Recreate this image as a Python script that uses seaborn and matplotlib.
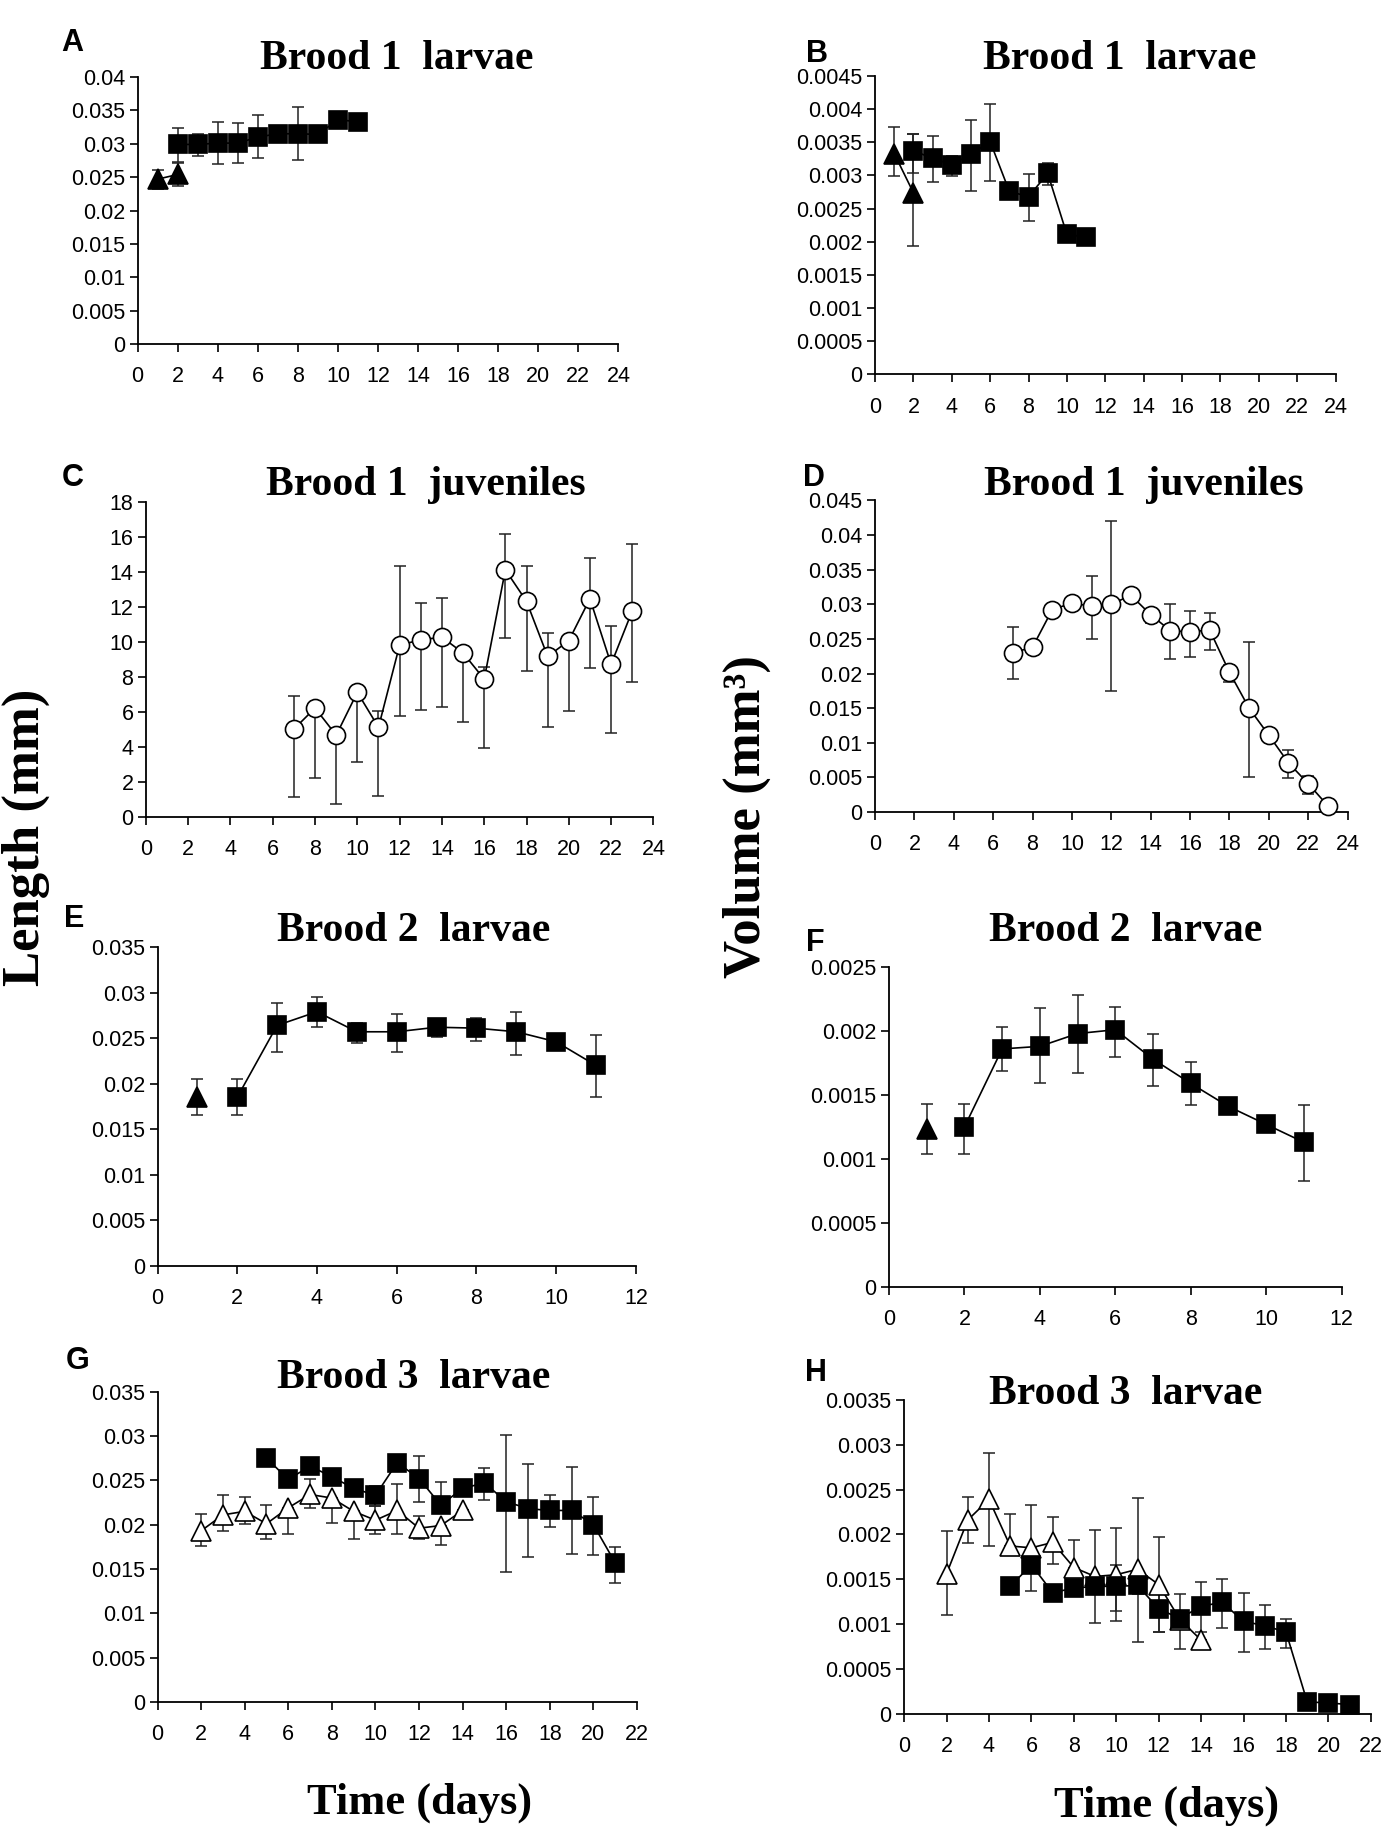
import numpy as np
import pandas as pd
import matplotlib.pyplot as plt
import seaborn as sns

nan = np.nan

# ── A: brood 1 larvae, length ─────────────────────────────────
a_tri_day = [1, 2]
a_tri_val = [0.0247, 0.0254]
a_tri_hi = [0.0261, 0.0271]
a_tri_lo = [0.0233, 0.0237]
a_sq_day = [2, 3, 4, 5, 6, 7, 8, 9, 10, 11]
a_sq_val = [0.0299, 0.0299, 0.0301, 0.0301, 0.0310, 0.0315, 0.0315, 0.0314, 0.0336, 0.0333]
a_sq_hi = [0.0323, 0.0315, 0.0332, 0.0331, 0.0343, nan, 0.0355, nan, nan, nan]
a_sq_lo = [0.0273, 0.0281, 0.0270, 0.0271, 0.0278, nan, 0.0275, nan, nan, nan]

# ── B: brood 1 larvae, volume ─────────────────────────────────
b_tri_day = [1, 2]
b_tri_val = [0.00333, 0.00274]
b_tri_hi = [0.00373, 0.00363]
b_tri_lo = [0.00299, 0.00193]
b_sq_day = [2, 3, 4, 5, 6, 7, 8, 9, 10, 11]
b_sq_val = [0.00337, 0.00326, 0.00316, 0.00332, 0.00351, 0.00276, 0.00268, 0.00303, 0.00211, 0.00207]
b_sq_hi = [0.00362, 0.00360, 0.00330, 0.00383, 0.00408, 0.00280, 0.00302, 0.00319, nan, nan]
b_sq_lo = [0.00304, 0.00290, 0.00299, 0.00277, 0.00292, 0.00272, 0.00232, 0.00285, nan, nan]

# ── C: brood 1 juveniles, length ──────────────────────────────
c_day = [7, 8, 9, 10, 11, 12, 13, 14, 15, 16, 17, 18, 19, 20, 21, 22, 23]
c_val = [5.0, 6.2, 4.65, 7.1, 5.1, 9.8, 10.1, 10.25, 9.35, 7.85, 14.1, 12.3, 9.15, 10.05, 12.45, 8.7, 11.75]
c_hi = [6.9, nan, nan, nan, 6.05, 14.3, 12.2, 12.5, nan, 8.55, 16.15, 14.3, 10.5, nan, 14.8, 10.9, 15.55]
c_lo = [1.1, 2.2, 0.7, 3.1, 1.2, 5.75, 6.1, 6.25, 5.4, 3.9, 10.2, 8.3, 5.1, 6.05, 8.5, 4.75, 7.7]

# ── D: brood 1 juveniles, volume ──────────────────────────────
d_day = [7, 8, 9, 10, 11, 12, 13, 14, 15, 16, 17, 18, 19, 20, 21, 22, 23]
d_val = [0.0230, 0.0238, 0.0292, 0.0302, 0.0297, 0.0300, 0.0313, 0.0285, 0.0262, 0.0260,
         0.0263, 0.0202, 0.0150, 0.0111, 0.0071, 0.0041, 0.0009]
d_hi = [0.0267, nan, nan, nan, 0.0341, 0.0420, nan, nan, 0.0300, 0.0290,
        0.0287, 0.0213, 0.0246, nan, 0.0090, 0.0052, nan]
d_lo = [0.0192, nan, nan, nan, 0.0250, 0.0175, nan, 0.0273, 0.0221, 0.0224,
        0.0234, 0.0188, 0.0050, nan, 0.0049, 0.0026, nan]

# ── E: brood 2 larvae, length ─────────────────────────────────
e_tri_day = [1]
e_tri_val = [0.0185]
e_tri_hi = [0.0205]
e_tri_lo = [0.0165]
e_sq_day = [2, 3, 4, 5, 6, 7, 8, 9, 10, 11]
e_sq_val = [0.0185, 0.0264, 0.0279, 0.0257, 0.0257, 0.0262, 0.0261, 0.0257, 0.0246, 0.0220]
e_sq_hi = [0.0205, 0.0289, 0.0295, 0.0267, 0.0277, 0.0265, 0.0272, 0.0279, nan, 0.0253]
e_sq_lo = [0.0165, 0.0235, 0.0262, 0.0245, 0.0235, 0.0251, 0.0247, 0.0232, nan, 0.0185]

# ── F: brood 2 larvae, volume ─────────────────────────────────
f_tri_day = [1]
f_tri_val = [0.00123]
f_tri_hi = [0.00143]
f_tri_lo = [0.00104]
f_sq_day = [2, 3, 4, 5, 6, 7, 8, 9, 10, 11]
f_sq_val = [0.00125, 0.00186, 0.00188, 0.00198, 0.00201, 0.00178, 0.00159, 0.00141, 0.00127, 0.00113]
f_sq_hi = [0.00143, 0.00203, 0.00218, 0.00228, 0.00219, 0.00198, 0.00176, 0.00144, nan, 0.00142]
f_sq_lo = [0.00104, 0.00169, 0.00159, 0.00167, 0.00180, 0.00157, 0.00142, 0.00137, nan, 0.00083]

# ── G: brood 3 larvae, length ─────────────────────────────────
g_tri_day = [2, 3, 4, 5, 6, 7, 8, 9, 10, 11, 12, 13, 14]
g_tri_val = [0.0193, 0.0211, 0.0215, 0.0201, 0.0219, 0.0234, 0.0230, 0.0215, 0.0205, 0.0216, 0.0196, 0.0199, 0.0216]
g_tri_hi = [0.0212, 0.0233, 0.0231, 0.0222, nan, 0.0251, nan, nan, 0.0221, 0.0246, 0.0210, nan, nan]
g_tri_lo = [0.0176, 0.0193, 0.0201, 0.0184, 0.0190, 0.0219, 0.0202, 0.0184, 0.0190, 0.0189, 0.0184, 0.0177, nan]
g_sq_day = [5, 6, 7, 8, 9, 10, 11, 12, 13, 14, 15, 16, 17, 18, 19, 20, 21]
g_sq_val = [0.0275, 0.0251, 0.0266, 0.0254, 0.0241, 0.0233, 0.0270, 0.0252, 0.0222, 0.0241,
            0.0247, 0.0226, 0.0218, 0.0216, 0.0216, 0.0200, 0.0157]
g_sq_hi = [nan, nan, nan, nan, nan, 0.0244, nan, 0.0277, 0.0248, nan,
           0.0264, 0.0301, 0.0268, 0.0233, 0.0265, 0.0231, 0.0175]
g_sq_lo = [nan, nan, nan, nan, nan, 0.0221, nan, 0.0225, nan, nan,
           0.0228, 0.0147, 0.0164, 0.0197, 0.0167, 0.0166, 0.0134]

# ── H: brood 3 larvae, volume ─────────────────────────────────
h_tri_day = [2, 3, 4, 5, 6, 7, 8, 9, 10, 11, 12, 13, 14]
h_tri_val = [0.00156, 0.00216, 0.00239, 0.00187, 0.00185, 0.00191, 0.00163, 0.00153, 0.00155,
             0.00161, 0.00144, 0.00105, 0.00082]
h_tri_hi = [0.00204, 0.00242, 0.00291, 0.00223, 0.00233, 0.00219, 0.00194, 0.00205, 0.00207,
            0.00241, 0.00197, nan, nan]
h_tri_lo = [0.00110, 0.00190, 0.00187, nan, nan, 0.00167, nan, nan, 0.00103,
            0.00080, 0.00091, nan, nan]
h_sq_day = [5, 6, 7, 8, 9, 10, 11, 12, 13, 14, 15, 16, 17, 18, 19, 20, 21]
h_sq_val = [0.00142, 0.00166, 0.00135, 0.00140, 0.00142, 0.00142, 0.00143, 0.00117, 0.00106,
            0.00120, 0.00124, 0.00103, 0.00098, 0.00091, 0.00013, 0.00012, 0.00010]
h_sq_hi = [nan, nan, nan, 0.00143, nan, 0.00166, nan, 0.00133, 0.00134,
           0.00147, 0.00150, 0.00135, 0.00121, 0.00106, nan, nan, nan]
h_sq_lo = [nan, 0.00137, nan, 0.00131, 0.00101, 0.00114, 0.00133, 0.00091, 0.00072,
           0.00091, 0.00095, 0.00069, 0.00072, 0.00073, nan, nan, nan]

# ── style ────────────────────────────────────────────────────
sns.set_style("ticks")
plt.rcParams["font.family"] = ["Liberation Sans", "DejaVu Sans"]
plt.rcParams["text.color"] = "black"
plt.rcParams["axes.edgecolor"] = "black"
SERIF = ["Liberation Serif", "DejaVu Serif"]

fig = plt.figure(figsize=(14, 18.42), dpi=100)


def add_series(ax, day, val, hi, lo, marker, face, ms):
    df = pd.DataFrame({"day": day, "val": val, "hi": hi, "lo": lo})
    up = (df["hi"] - df["val"]).fillna(0)
    dn = (df["val"] - df["lo"]).fillna(0)
    ax.errorbar(df["day"], df["val"], yerr=[dn, up], fmt="none", ecolor="#222222",
                elinewidth=1.1, capsize=4.5, capthick=1.1, zorder=2, clip_on=False)
    sns.lineplot(data=df, x="day", y="val", ax=ax, color="black", lw=1.2,
                 marker=marker, markersize=ms, markerfacecolor=face,
                 markeredgecolor="black", markeredgewidth=1.2,
                 estimator=None, sort=False, zorder=3, clip_on=False)


def setup(ax, xmax, ymax, ystep):
    ax.set_xlim(0, xmax)
    ax.set_ylim(0, ymax)
    ax.set_xticks(np.arange(0, xmax + 1, 2))
    yt = np.arange(0, ymax + ystep / 2, ystep)
    ax.set_yticks(yt)
    ax.set_yticklabels([f"{v:g}" for v in np.round(yt, 6)])
    ax.set_xlabel("")
    ax.set_ylabel("")
    sns.despine(ax=ax)
    ax.tick_params(direction="out", length=6, width=1.2, labelsize=15.5, colors="black")
    ax.tick_params(axis="x", pad=10)
    ax.tick_params(axis="y", pad=3)
    for s in ax.spines.values():
        s.set_linewidth(1.3)
        s.set_color("black")


SQ, TRI, CIRC = 13, 14, 13

# ── panels ───────────────────────────────────────────────────
axA = fig.add_axes([0.0983, 0.8132, 0.3434, 0.1450])
add_series(axA, a_tri_day, a_tri_val, a_tri_hi, a_tri_lo, "^", "black", TRI)
add_series(axA, a_sq_day, a_sq_val, a_sq_hi, a_sq_lo, "s", "black", SQ)
setup(axA, 24, 0.04, 0.005)

axB = fig.add_axes([0.6250, 0.7967, 0.3290, 0.1621])
add_series(axB, b_tri_day, b_tri_val, b_tri_hi, b_tri_lo, "^", "black", TRI)
add_series(axB, b_sq_day, b_sq_val, b_sq_hi, b_sq_lo, "s", "black", SQ)
setup(axB, 24, 0.0045, 0.0005)

axC = fig.add_axes([0.1042, 0.5567, 0.3625, 0.1710])
add_series(axC, c_day, c_val, c_hi, c_lo, "o", "white", CIRC)
setup(axC, 24, 18, 2)

axD = fig.add_axes([0.6250, 0.5592, 0.3375, 0.1691])
add_series(axD, d_day, d_val, d_hi, d_lo, "o", "white", CIRC)
setup(axD, 24, 0.045, 0.005)

axE = fig.add_axes([0.1125, 0.3129, 0.3417, 0.1729])
add_series(axE, e_tri_day, e_tri_val, e_tri_hi, e_tri_lo, "^", "black", TRI)
add_series(axE, e_sq_day, e_sq_val, e_sq_hi, e_sq_lo, "s", "black", SQ)
setup(axE, 12, 0.035, 0.005)

axF = fig.add_axes([0.6350, 0.3014, 0.3233, 0.1736])
add_series(axF, f_tri_day, f_tri_val, f_tri_hi, f_tri_lo, "^", "black", TRI)
add_series(axF, f_sq_day, f_sq_val, f_sq_hi, f_sq_lo, "s", "black", SQ)
setup(axF, 12, 0.0025, 0.0005)

axG = fig.add_axes([0.1125, 0.0760, 0.3425, 0.1685])
add_series(axG, g_tri_day, g_tri_val, g_tri_hi, g_tri_lo, "^", "white", TRI)
add_series(axG, g_sq_day, g_sq_val, g_sq_hi, g_sq_lo, "s", "black", SQ)
setup(axG, 22, 0.035, 0.005)

axH = fig.add_axes([0.6458, 0.0697, 0.3334, 0.1703])
add_series(axH, h_tri_day, h_tri_val, h_tri_hi, h_tri_lo, "^", "white", TRI)
add_series(axH, h_sq_day, h_sq_val, h_sq_hi, h_sq_lo, "s", "black", SQ)
setup(axH, 22, 0.0035, 0.0005)

# ── titles, letters, big labels ──────────────────────────────
titles = [("Brood 1  larvae", 0.2833, 0.9677), ("Brood 1  larvae", 0.8000, 0.9677),
          ("Brood 1  juveniles", 0.3042, 0.7365), ("Brood 1  juveniles", 0.8167, 0.7365),
          ("Brood 2  larvae", 0.2958, 0.4946), ("Brood 2  larvae", 0.8042, 0.4946),
          ("Brood 3  larvae", 0.2958, 0.2521), ("Brood 3  larvae", 0.8042, 0.2432)]
for t, x, y in titles:
    fig.text(x, y, t, ha="center", va="center", fontsize=30, fontweight="bold",
             family=SERIF, color="black")

letters = [("A", 0.0517, 0.9766), ("B", 0.5833, 0.9709), ("C", 0.0517, 0.7403),
           ("D", 0.5817, 0.7403), ("E", 0.0533, 0.5010), ("F", 0.5825, 0.4883),
           ("G", 0.0558, 0.2609), ("H", 0.5825, 0.2546)]
for t, x, y in letters:
    fig.text(x, y, t, ha="center", va="center", fontsize=22, fontweight="bold", color="black")

fig.text(0.0183, 0.5453, "Length (mm)", rotation=90, ha="center", va="center",
         fontsize=38, fontweight="bold", family=SERIF, color="black")
fig.text(0.5333, 0.5567, "Volume (mm³)", rotation=90, ha="center", va="center",
         fontsize=38, fontweight="bold", family=SERIF, color="black")
fig.text(0.3000, 0.0215, "Time (days)", ha="center", va="center",
         fontsize=32, fontweight="bold", family=SERIF, color="black")
fig.text(0.8333, 0.0196, "Time (days)", ha="center", va="center",
         fontsize=32, fontweight="bold", family=SERIF, color="black")

fig.savefig("out.png", dpi=100, facecolor="white")
